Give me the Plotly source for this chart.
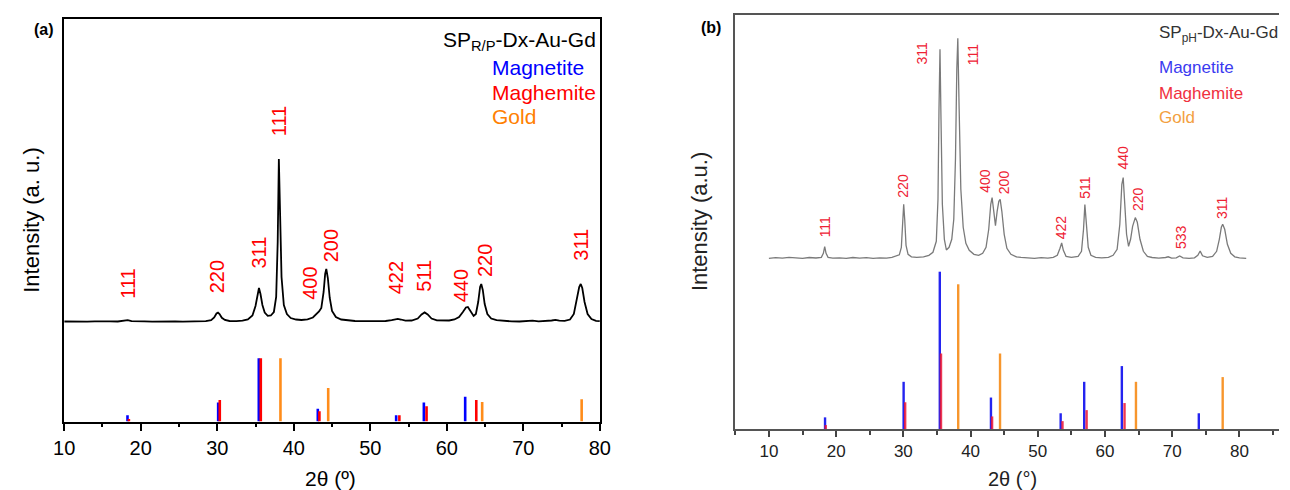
import plotly.graph_objects as go

# The page body has an 8px margin, so the figure is 8px smaller than the window
# and all reference pixel coordinates are shifted by that margin.
WIN_W, WIN_H, PAGE_MARGIN = 1290, 490, 8
W, H = WIN_W - PAGE_MARGIN, WIN_H - PAGE_MARGIN
FONT = "Liberation Sans, Arial, sans-serif"

# ---------------- Panel (a): SP_R/P-Dx-Au-Gd ----------------
a_theta = [
    10.0, 11.0, 12.0, 13.0, 14.0, 15.0, 16.0, 17.0,
    17.8, 18.3, 18.8, 19.5,
    20.5, 21.5, 22.5, 23.5, 24.5, 25.5, 26.5, 27.5, 28.5,
    29.2, 29.6, 29.9, 30.1, 30.3, 30.6, 31.0, 31.6,
    32.5, 33.3, 34.0, 34.6, 35.0, 35.25, 35.45, 35.65, 35.9, 36.2, 36.6,
    37.0, 37.4, 37.7, 37.9, 38.05, 38.2, 38.4, 38.7, 39.1, 39.6,
    40.3, 41.0, 41.8, 42.5, 43.0, 43.3, 43.6, 43.9, 44.1, 44.25, 44.45, 44.7, 45.0, 45.5, 46.2,
    47.0, 48.0, 49.0, 50.0, 51.0, 52.0,
    52.8, 53.3, 53.6, 54.0, 54.6,
    55.4, 56.2, 56.7, 57.1, 57.5, 58.0, 58.7,
    59.5, 60.3, 61.0, 61.6, 62.1, 62.5, 62.75, 63.1, 63.5,
    63.8, 64.1, 64.35, 64.5, 64.7, 64.95, 65.3, 65.8, 66.5,
    67.5, 68.5, 69.5, 70.5, 71.2, 72.0, 73.0,
    73.7, 74.2, 74.7, 75.4,
    76.1, 76.6, 77.0, 77.3, 77.5, 77.7, 78.0, 78.4, 78.9, 79.5, 80.0]
a_counts = [
    0.5, 0.3, 0.7, 0.4, 0.6, 0.3, 0.6, 0.5,
    0.9, 1.8, 0.8, 0.5,
    0.7, 0.4, 0.6, 0.3, 0.5, 0.4, 0.7, 0.5, 0.9,
    1.8, 4.5, 8.5, 9.3, 8.0, 4.2, 2.0, 1.0,
    0.9, 1.3, 2.6, 6.5, 16, 28, 34, 28, 17, 9.5, 6.2,
    6.5, 10, 25, 80, 163, 110, 45, 17, 8, 4,
    2.5, 2.0, 2.6, 4.5, 8, 10.5, 14, 30, 48, 53, 44, 24, 11, 5, 2.5,
    1.5, 1.0, 0.8, 0.7, 0.8, 1.0,
    1.8, 2.8, 3.2, 2.5, 1.3,
    1.5, 3.5, 7.5, 9.6, 7.5, 3.5, 1.6,
    1.2, 1.5, 2.5, 5, 10, 14.5, 15, 11, 6,
    8, 20, 35, 38, 32, 18, 8, 3.5, 1.8,
    1.0, 0.6, 0.5, 0.8, 1.3, 0.7, 0.8,
    1.5, 2.2, 1.4, 1.2,
    2.5, 8, 22, 35, 38, 34, 20, 8, 3, 1.2, 0.8]

a_mag_pos = [18.27, 30.12, 35.43, 43.14, 53.38, 57.0, 62.4]
a_mag_rel = [10, 30, 100, 20, 10, 30, 39]
a_mgh_pos = [18.45, 30.33, 35.69, 43.35, 53.8, 57.35, 63.85]
a_mgh_rel = [4, 34, 100, 16, 10, 24, 34]
a_au_pos = [38.26, 44.5, 64.62, 77.62]
a_au_rel = [100, 53, 31, 35]

a_hkl_text = ["111", "220", "311", "111", "400", "200", "422", "511", "440", "220", "311"]
a_hkl_x = [18.3, 30.0, 35.4, 38.1, 42.1, 44.9, 53.4, 57.0, 61.9, 65.0, 77.5]

# ---------------- Panel (b): SP_pH-Dx-Au-Gd ----------------
b_theta = [
    10.0, 11.0, 12.0, 13.0, 14.0, 15.0, 16.0, 17.0,
    17.8, 18.1, 18.3, 18.5, 18.8, 19.5,
    20.5, 21.5, 22.5, 23.5, 24.5, 25.5, 26.5, 27.5,
    28.3, 28.9, 29.4, 29.7, 29.9, 30.05, 30.2, 30.4, 30.7, 31.2,
    32.0, 33.0, 33.8, 34.4, 34.9, 35.15, 35.3, 35.45, 35.6, 35.8, 36.1, 36.4,
    36.8, 37.2, 37.5, 37.75, 37.95, 38.1, 38.3, 38.55, 38.9, 39.3, 39.8,
    40.5, 41.2, 41.8, 42.3, 42.7, 43.0, 43.2, 43.45, 43.7, 43.95, 44.2, 44.4, 44.65, 45.0, 45.4, 46.0,
    46.8, 47.5, 48.5, 49.5, 50.5, 51.5,
    52.3, 52.9, 53.3, 53.55, 53.8, 54.2,
    55.0, 56.0, 56.5, 56.8, 57.0, 57.2, 57.5, 57.9, 58.6,
    59.5, 60.5, 61.2, 61.8, 62.2, 62.5, 62.7, 62.95, 63.2, 63.5,
    63.8, 64.1, 64.5, 64.8, 65.2, 65.7, 66.3,
    67.0, 68.0, 69.0, 69.4, 69.9, 70.6, 71.1, 71.6, 72.5,
    73.3, 73.8, 74.15, 74.5, 75.2,
    76.0, 76.6, 77.0, 77.3, 77.5, 77.8, 78.2, 78.7, 79.3, 80.0, 81.0]
b_counts = [
    1.0, 1.6, 1.2, 2.0, 1.5, 1.0, 1.8, 1.3,
    2.0, 6.0, 12.7, 6.0, 2.0, 1.2,
    1.5, 1.0, 1.8, 1.2, 1.6, 1.0, 1.5, 1.2,
    2.0, 3.0, 4.5, 12, 35, 55, 40, 14, 5, 2.5,
    2.0, 2.5, 4, 7, 18, 60, 150, 210, 140, 55, 20, 9.3,
    12, 20, 40, 100, 190, 221, 150, 70, 32, 16, 9,
    5, 4, 6, 12, 30, 55, 61.6, 48, 33.6, 48, 58, 60, 48, 25, 11, 5,
    2.5, 2.0, 1.5, 1.0, 1.6, 1.2,
    2.0, 4, 11, 16.3, 9, 3,
    2.0, 3.0, 8, 30, 54.7, 40, 12, 4, 2.0,
    1.5, 2.0, 4, 10, 35, 75, 81.7, 55, 25, 13,
    20, 33, 41.7, 37, 20, 8, 3,
    1.8, 1.2, 1.8, 2.5, 1.2, 1.5, 3.3, 1.5, 1.0,
    1.5, 4, 8.3, 3.5, 2.0,
    3.0, 8, 20, 32, 35, 30, 15, 6, 2.5, 1.5, 1.0]

b_mag_pos = [18.35, 30.04, 35.42, 43.03, 53.4, 56.9, 62.5, 73.95]
b_mag_rel = [7.4, 30, 100, 20, 10, 30, 40, 10]
b_mgh_pos = [18.45, 30.27, 35.6, 43.2, 53.67, 57.26, 62.9]
b_mgh_rel = [2.5, 17, 48, 8, 5, 12, 16.5]
b_au_pos = [38.16, 44.38, 64.6, 77.5]
b_au_rel = [92, 48, 30, 33]

b_hkl_text = ["111", "220", "311", "111", "400", "200", "422", "511", "440", "220", "533", "311"]
b_hkl_x = [18.4, 29.9, 32.7, 40.4, 42.1, 45.0, 53.5, 57.0, 62.6, 64.9, 71.3, 77.4]

# ---------------- layout geometry (window pixels of the reference) ----------------
A_LEFT, A_RIGHT, A_TOP, A_BOT = 54, 599, 19, 421.5
B_LEFT, B_TOP, B_BOT = 736.8, 15, 429
B_PX_PER_DEG = 6.84
A_OFFSET, A_STICK = 99.5, 0.633      # curve baseline height, stick px per %
B_OFFSET, B_STICK = 169.7, 1.573
a_hkl_h = [A_BOT - v for v in [284, 277, 253, 121, 283, 246, 278, 276, 286, 261, 245]]
b_hkl_h = [B_BOT - v for v in [227, 186, 53, 55, 181, 182, 227, 187, 158, 199, 237, 208]]


def px(x):
    return (x - PAGE_MARGIN) / W


def py(y):
    return 1 - (y - PAGE_MARGIN) / H


def sticks(pos, rel, k):
    xs, ys = [], []
    for p, r in zip(pos, rel):
        xs += [p, p, None]
        ys += [0, r * k, None]
    return xs, ys


fig = go.Figure()

for pos, rel, col in [(a_mag_pos, a_mag_rel, "#0000ff"),
                      (a_mgh_pos, a_mgh_rel, "#ff0000"),
                      (a_au_pos, a_au_rel, "#ff8c1a")]:
    xs, ys = sticks(pos, rel, A_STICK)
    fig.add_trace(go.Scatter(x=xs, y=ys, mode="lines", line=dict(color=col, width=2.6),
                             xaxis="x", yaxis="y", hoverinfo="skip"))
fig.add_trace(go.Scatter(x=a_theta, y=[A_OFFSET + c for c in a_counts], mode="lines",
                         line=dict(color="black", width=1.8), xaxis="x", yaxis="y",
                         hoverinfo="skip"))

for pos, rel, col in [(b_mag_pos, b_mag_rel, "#2424f0"),
                      (b_mgh_pos, b_mgh_rel, "rgba(235,20,50,0.85)"),
                      (b_au_pos, b_au_rel, "#f7962d")]:
    xs, ys = sticks(pos, rel, B_STICK)
    fig.add_trace(go.Scatter(x=xs, y=ys, mode="lines", line=dict(color=col, width=2.4),
                             xaxis="x2", yaxis="y2", hoverinfo="skip"))
fig.add_trace(go.Scatter(x=b_theta, y=[B_OFFSET + c for c in b_counts], mode="lines",
                         line=dict(color="#7a7a7a", width=1.3), xaxis="x2", yaxis="y2",
                         hoverinfo="skip"))

ann = []
for t, x, h in zip(a_hkl_text, a_hkl_x, a_hkl_h):
    ann.append(dict(text=t, x=x, y=h, xref="x", yref="y", showarrow=False, textangle=-90,
                    xanchor="center", yanchor="middle",
                    font=dict(family=FONT, size=20, color="#ff0000")))
for t, x, h in zip(b_hkl_text, b_hkl_x, b_hkl_h):
    ann.append(dict(text=t, x=x, y=h, xref="x2", yref="y2", showarrow=False, textangle=-90,
                    xanchor="center", yanchor="middle",
                    font=dict(family=FONT, size=14, color="#ee2233")))


def txt(text, x, y, size, color="black", anchor="center", angle=0):
    ann.append(dict(text=text, x=px(x), y=py(y), xref="paper", yref="paper", showarrow=False,
                    xanchor=anchor, yanchor="middle", textangle=angle,
                    font=dict(family=FONT, size=size, color=color)))


txt("<b>(a)</b>", 33, 30, 16)
txt("SP<sub>R/P</sub>-Dx-Au-Gd", 437, 41, 21, anchor="left")
txt("Magnetite", 487, 67, 21, "#0000ff", anchor="left")
txt("Maghemite", 487, 92, 21, "#ff0000", anchor="left")
txt("Gold", 487, 117, 21, "#ff8000", anchor="left")
txt("2θ (º)", 325, 478, 21)
txt("Intensity (a. u.)", 20, 220, 22, angle=-90)

txt("<b>(b)</b>", 712, 28, 16)
txt("SP<sub>pH</sub>-Dx-Au-Gd", 1166, 34, 17, "#333333", anchor="left")
txt("Magnetite", 1166, 67, 17, "#3a3af0", anchor="left")
txt("Maghemite", 1166, 93, 17, "#f03040", anchor="left")
txt("Gold", 1166, 118, 17, "#f3a040", anchor="left")
txt("2θ (°)", 1019, 479, 20, "#222222")
txt("Intensity (a.u.)", 700, 222, 22, "#222222", angle=-90)

fig.update_layout(
    width=W, height=H, margin=dict(l=0, r=0, t=0, b=0),
    paper_bgcolor="white", plot_bgcolor="white", showlegend=False,
    annotations=ann,
    xaxis=dict(domain=[px(A_LEFT), px(A_RIGHT)], range=[10, 80], anchor="y",
               tickmode="linear", tick0=0, dtick=10, ticks="outside", ticklen=8,
               tickwidth=1.5, tickcolor="black", showline=True, linecolor="black",
               linewidth=1.5, mirror=True, showgrid=False, zeroline=False,
               tickfont=dict(family=FONT, size=20, color="black"),
               minor=dict(tick0=0, dtick=5, ticks="outside", ticklen=4, tickwidth=1.5,
                          tickcolor="black", showgrid=False)),
    yaxis=dict(domain=[py(A_BOT), py(A_TOP)], range=[0, A_BOT - A_TOP], anchor="x",
               showticklabels=False, ticks="", showline=True, mirror=True,
               linecolor="black", linewidth=1.5, showgrid=False, zeroline=False),
    xaxis2=dict(domain=[px(B_LEFT), 1.0], range=[5, 5 + (WIN_W - B_LEFT) / B_PX_PER_DEG],
                anchor="y2", tickmode="linear", tick0=0, dtick=10, ticks="outside",
                ticklen=6, tickwidth=1.5, tickcolor="#444444", showline=True,
                linecolor="#555555", linewidth=2, mirror=True, showgrid=False,
                zeroline=False, tickfont=dict(family=FONT, size=17, color="#222222"),
                minor=dict(tick0=0, dtick=5, ticks="outside", ticklen=4, tickwidth=1.5,
                           tickcolor="#444444", showgrid=False)),
    yaxis2=dict(domain=[py(B_BOT), py(B_TOP)], range=[0, B_BOT - B_TOP], anchor="x2",
                showticklabels=False, ticks="", showline=True, mirror=False,
                linecolor="#555555", linewidth=2, showgrid=False, zeroline=False),
)

fig.write_html("out.html")
